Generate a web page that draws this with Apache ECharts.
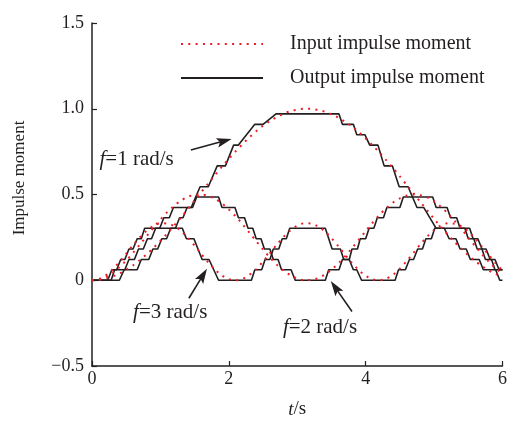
<!DOCTYPE html>
<html><head><meta charset="utf-8">
<script src="https://cdn.jsdelivr.net/npm/echarts@6/dist/echarts.min.js"></script>
<style>html,body{margin:0;padding:0;background:#fff}#c{width:510px;height:424px}</style>
</head><body><div id="c"></div>
<script>
// ---- data ----
const tIn = [0,0.1,0.2,0.3,0.4,0.5,0.6,0.7,0.8,0.9,1.0,1.1,1.2,1.3,1.4,1.5,1.6,1.7,1.8,1.9,2.0,2.1,2.2,2.3,2.4,2.5,2.6,2.7,2.8,2.9,3.0,3.1,3.2,3.3,3.4,3.5,3.6,3.7,3.8,3.9,4.0,4.1,4.2,4.3,4.4,4.5,4.6,4.7,4.8,4.9,5.0,5.1,5.2,5.3,5.4,5.5,5.6,5.7,5.8,5.9,6.0];
const in1 = [0,0.0025,0.010,0.022,0.039,0.061,0.087,0.118,0.152,0.189,0.230,0.273,0.319,0.366,0.415,0.465,0.515,0.564,0.614,0.662,0.708,0.752,0.794,0.833,0.869,0.901,0.928,0.952,0.971,0.986,0.995,1.000,0.999,0.994,0.983,0.968,0.948,0.924,0.896,0.863,0.827,0.787,0.745,0.700,0.654,0.605,0.556,0.506,0.456,0.407,0.358,0.311,0.266,0.223,0.183,0.146,0.112,0.083,0.057,0.036,0.020];
const in2 = [0,0.005,0.020,0.044,0.076,0.115,0.159,0.208,0.257,0.307,0.354,0.397,0.434,0.464,0.486,0.498,0.500,0.492,0.474,0.448,0.413,0.373,0.327,0.278,0.228,0.179,0.133,0.091,0.056,0.029,0.010,0.001,0.002,0.012,0.033,0.062,0.098,0.140,0.187,0.237,0.286,0.335,0.380,0.420,0.453,0.478,0.494,0.500,0.496,0.483,0.460,0.429,0.390,0.346,0.299,0.249,0.199,0.152,0.108,0.070,0.039];
const in3 = [0,0.007,0.029,0.063,0.106,0.155,0.205,0.251,0.290,0.317,0.332,0.331,0.316,0.288,0.248,0.202,0.152,0.104,0.061,0.028,0.007,0.000,0.008,0.031,0.065,0.109,0.158,0.207,0.253,0.291,0.318,0.332,0.331,0.315,0.286,0.246,0.199,0.149,0.101,0.059,0.026,0.006,0.000,0.009,0.032,0.068,0.112,0.160,0.210,0.255,0.293,0.320,0.332,0.330,0.314,0.285,0.243,0.196,0.147,0.098,0.057];

const out1T = [0,0.40,0.47,0.66,0.72,0.83,0.89,0.96,1.02,1.09,1.15,1.22,1.28,1.33,1.39,1.45,1.58,1.70,1.83,1.95,2.07,2.14,2.38,2.50,2.69,3.61,3.66,3.82,3.87,3.99,4.06,4.18,4.27,4.39,4.49,4.62,4.75,4.85,5.03,5.15,5.22,5.32,5.38,5.47,5.53,5.66,5.72,5.90,5.96,6.0];
const out1V = [0,0,0.061,0.061,0.121,0.121,0.182,0.182,0.242,0.242,0.303,0.303,0.364,0.364,0.424,0.424,0.545,0.545,0.667,0.667,0.788,0.788,0.909,0.909,0.970,0.970,0.909,0.909,0.848,0.848,0.788,0.788,0.667,0.667,0.545,0.545,0.424,0.424,0.303,0.303,0.242,0.242,0.182,0.182,0.121,0.121,0.061,0.061,0,0];

const out2T = [0,0.28,0.33,0.48,0.54,0.62,0.68,0.75,0.81,0.87,0.93,0.99,1.05,1.13,1.19,1.47,1.53,1.85,1.90,2.09,2.14,2.23,2.28,2.35,2.40,2.47,2.52,2.60,2.65,2.72,2.77,2.91,2.97,3.41,3.46,3.61,3.66,3.76,3.80,3.88,3.92,4.00,4.05,4.12,4.17,4.26,4.31,4.50,4.55,4.98,5.03,5.19,5.24,5.33,5.38,5.45,5.50,5.58,5.63,5.70,5.75,5.84,5.89,6.0];
const out2V = [0,0,0.061,0.061,0.121,0.121,0.182,0.182,0.242,0.242,0.303,0.303,0.364,0.364,0.424,0.424,0.485,0.485,0.424,0.424,0.364,0.364,0.303,0.303,0.242,0.242,0.182,0.182,0.121,0.121,0.061,0.061,0,0,0.061,0.061,0.121,0.121,0.182,0.182,0.242,0.242,0.303,0.303,0.364,0.364,0.424,0.424,0.485,0.485,0.424,0.424,0.364,0.364,0.303,0.303,0.242,0.242,0.182,0.182,0.121,0.121,0.061,0.061];

const out3T = [0,0.23,0.29,0.36,0.42,0.48,0.54,0.60,0.66,0.72,0.77,1.32,1.38,1.49,1.61,1.71,1.85,2.33,2.38,2.48,2.53,2.60,2.65,2.73,2.78,2.84,2.89,3.41,3.51,3.63,3.68,3.76,3.82,3.87,3.94,4.43,4.48,4.58,4.64,4.70,4.76,4.83,4.88,4.96,5.01,5.52,5.57,5.64,5.70,5.76,5.82,5.89,5.95,6.0];
const out3V = [0,0,0.061,0.061,0.121,0.121,0.182,0.182,0.242,0.242,0.303,0.303,0.242,0.242,0.121,0.121,0,0,0.061,0.061,0.121,0.121,0.182,0.182,0.242,0.242,0.303,0.303,0.182,0.182,0.121,0.121,0.061,0.061,0,0,0.061,0.061,0.121,0.121,0.182,0.182,0.242,0.242,0.303,0.303,0.242,0.242,0.182,0.182,0.121,0.121,0.061,0.061];

const xTicks = [0,2,4,6];
const yTicks = [-0.5,0,0.5,1.0,1.5];
const legendNames = ['Input impulse moment','Output impulse moment'];
const annoLabels = [['f','=1 rad/s',0.11,0.705],['f','=3 rad/s',0.60,-0.19],['f','=2 rad/s',2.79,-0.275]];
const annoArrows = [[1.445,0.759,2.04,0.824],[1.416,-0.105,1.68,0.067],[3.80,-0.182,3.49,-0.005]];

// ---- chart ----
const FONT = "'Liberation Serif','Times New Roman',serif";
const INK = '#231f20';
const RED = '#ec1c24';
const zip = (a,b)=>a.map((x,i)=>[x,b[i]]);
const chart = echarts.init(document.getElementById('c'));

const inSeries = [in1,in2,in3].map(d=>({
  type:'line', name:legendNames[0], data:zip(tIn,d), symbol:'none', smooth:0.3, z:4,
  lineStyle:{color:RED, width:2, type:[2,5.3]}, itemStyle:{color:RED}
}));
const outSeries = [[out1T,out1V],[out2T,out2V],[out3T,out3V]].map(p=>({
  type:'line', name:legendNames[1], data:zip(p[0],p[1]), symbol:'none', z:3,
  lineStyle:{color:INK, width:1.6}, itemStyle:{color:INK}
}));

chart.setOption({
  animation:false,
  backgroundColor:'#fff',
  grid:{left:92, right:3, top:23, bottom:53},
  legend:{
    orient:'vertical', left:175, top:29, itemWidth:82, itemHeight:14, itemGap:14,
    data:legendNames, selectedMode:false,
    itemStyle:{opacity:0},
    textStyle:{fontSize:20, fontFamily:FONT, color:INK, padding:[0,0,0,22]}
  },
  xAxis:{
    type:'value', min:xTicks[0], max:xTicks[xTicks.length-1], interval:2,
    name:'{i|t}/s', nameLocation:'middle', nameGap:34,
    nameTextStyle:{fontSize:19, fontFamily:FONT, color:INK, rich:{i:{fontStyle:'italic', fontSize:19, fontFamily:FONT, color:INK}}},
    axisLine:{onZero:false, lineStyle:{color:INK, width:1.5}},
    axisTick:{inside:true, length:5, lineStyle:{color:INK, width:1.2}},
    axisLabel:{fontSize:18, fontFamily:FONT, color:INK, margin:4},
    splitLine:{show:false}
  },
  yAxis:{
    type:'value', min:yTicks[0], max:yTicks[yTicks.length-1], interval:0.5,
    axisLine:{show:true, onZero:false, lineStyle:{color:INK, width:1.5}},
    axisTick:{show:true, inside:true, length:5, lineStyle:{color:INK, width:1.2}},
    axisLabel:{fontSize:18, fontFamily:FONT, color:INK, margin:8,
      formatter:v=> v===0 ? '0' : (v<0 ? '\u2212'+Math.abs(v).toFixed(1) : v.toFixed(1))},
    splitLine:{show:false}
  },
  series:[...outSeries, ...inSeries]
});

function drawAnno(){
  const g = [];
  annoArrows.forEach(a=>{
    const p0 = chart.convertToPixel({gridIndex:0},[a[0],a[1]]);
    const p1 = chart.convertToPixel({gridIndex:0},[a[2],a[3]]);
    const dx=p1[0]-p0[0], dy=p1[1]-p0[1], L=Math.hypot(dx,dy), ux=dx/L, uy=dy/L;
    const hl=15, hw=4.8;
    const bx=p1[0]-ux*hl, by=p1[1]-uy*hl;
    g.push({type:'line', silent:true, shape:{x1:p0[0],y1:p0[1],x2:bx+ux*4,y2:by+uy*4}, style:{stroke:INK, lineWidth:1.6}});
    g.push({type:'polygon', silent:true, shape:{points:[[p1[0],p1[1]],[bx-uy*hw,by+ux*hw],[bx+ux*3,by+uy*3],[bx+uy*hw,by-ux*hw]]}, style:{fill:INK}});
  });
  annoLabels.forEach(l=>{
    const p = chart.convertToPixel({gridIndex:0},[l[2],l[3]]);
    g.push({type:'text', silent:true, x:p[0], y:p[1], style:{
      text:'{i|'+l[0]+'}'+l[1], fontSize:21, fontFamily:FONT, fill:INK, align:'left', verticalAlign:'middle',
      rich:{i:{fontStyle:'italic', fontSize:21, fontFamily:FONT, fill:INK}}
    }});
  });
  g.push({type:'text', silent:true, x:20, y:178, rotation:Math.PI/2, style:{
    text:'Impulse moment', fontSize:17, fontFamily:FONT, fill:INK, align:'center', verticalAlign:'middle'
  }});
  chart.setOption({graphic:g});
}
drawAnno();
</script>
</body></html>
